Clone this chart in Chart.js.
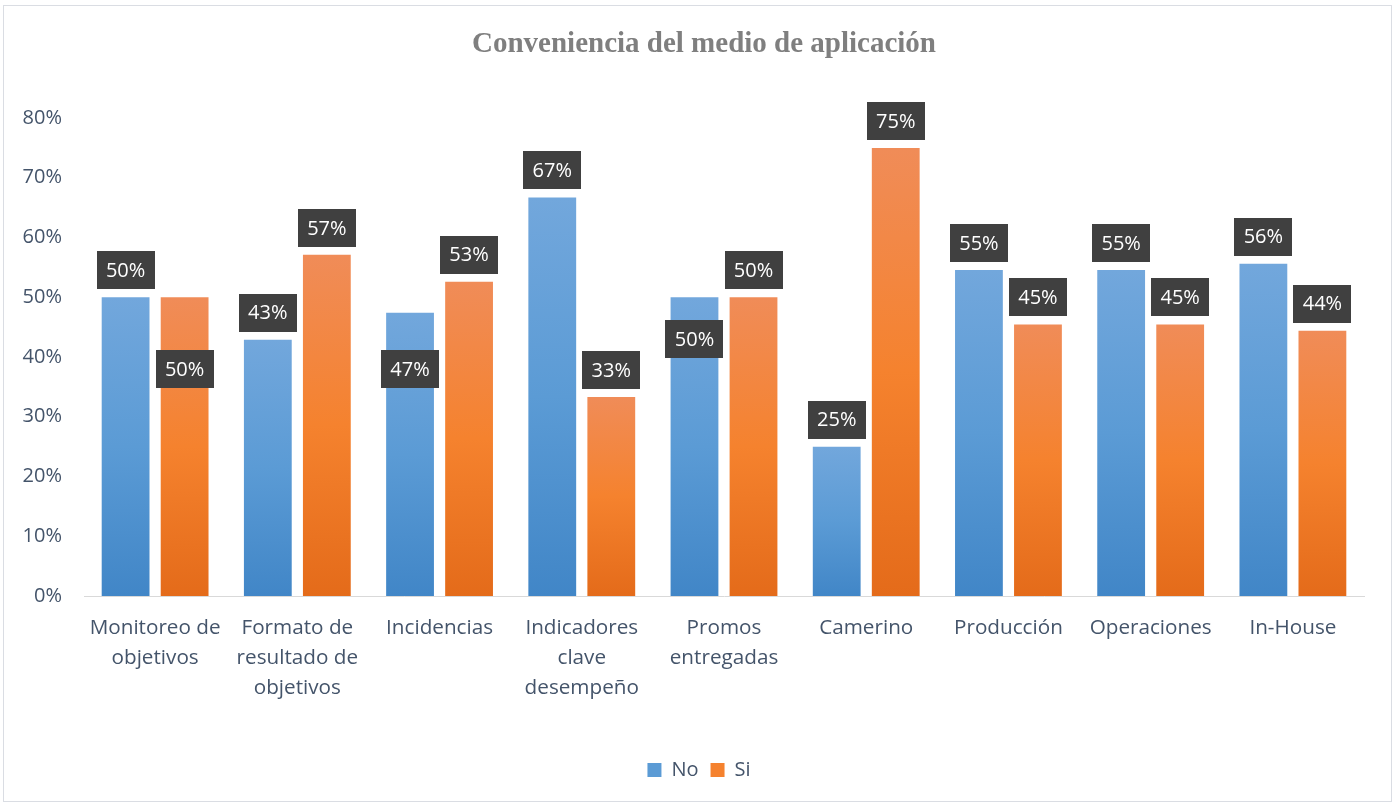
<!DOCTYPE html>
<html>
<head>
<meta charset="utf-8">
<script src="https://cdn.jsdelivr.net/npm/chart.js@4"></script>
<style>
    html, body { margin: 0; padding: 0; background: #ffffff; }
    #wrap { position: relative; width: 1398px; height: 806px; }
    #frame { position: absolute; left: 3px; top: 5px; width: 1389px; height: 797px; border: 1px solid #dadde3; box-sizing: border-box; pointer-events: none; }
</style>
</head>
<body>
<div id="wrap">
    <canvas id="chart" width="1398" height="806"></canvas>
    <div id="frame"></div>
</div>
<script>
// Datos del gráfico
const categories = [
    ['Monitoreo de', 'objetivos'],
    ['Formato de', 'resultado de', 'objetivos'],
    'Incidencias',
    ['Indicadores', 'clave', 'desempeño'],
    ['Promos', 'entregadas'],
    'Camerino',
    'Producción',
    'Operaciones',
    'In-House'
];
const noValues = [50.0, 42.9, 47.4, 66.7, 50.0, 25.0, 54.55, 54.55, 55.6];
const siValues = [50.0, 57.1, 52.6, 33.3, 50.0, 75.0, 45.45, 45.45, 44.4];
const yMin = 0;
const yMax = 80;
const yStep = 10;

const textColor = '#44546a';
const baseFont = 'Open Sans';

// Degradado vertical por barra (más claro arriba)
function barGradient(context, stops) {
    const chart = context.chart;
    if (!chart.chartArea || context.type !== 'data') return stops[1];
    const yScale = chart.scales.y;
    const top = yScale.getPixelForValue(context.raw);
    const bottom = yScale.getPixelForValue(0);
    if (!isFinite(top) || bottom - top < 1) return stops[1];
    const g = chart.ctx.createLinearGradient(0, top, 0, bottom);
    g.addColorStop(0, stops[0]);
    g.addColorStop(0.5, stops[1]);
    g.addColorStop(1, stops[2]);
    return g;
}

// Título dibujado a mano
const titlePlugin = {
    id: 'customTitle',
    afterDraw(chart) {
        const ctx = chart.ctx;
        ctx.save();
        ctx.font = 'bold 29px "Liberation Serif"';
        ctx.fillStyle = '#7f7f7f';
        ctx.textAlign = 'center';
        ctx.textBaseline = 'middle';
        ctx.fillText('Conveniencia del medio de aplicación', 704, 45);
        ctx.restore();
    }
};

// Etiquetas de datos en cajas oscuras
const boxLabels = {
    id: 'boxLabels',
    afterDatasetsDraw(chart, args, opts) {
        const ctx = chart.ctx;
        const yScale = chart.scales.y;
        ctx.save();
        ctx.font = '20px "' + baseFont + '"';
        ctx.textAlign = 'center';
        ctx.textBaseline = 'middle';
        chart.data.datasets.forEach((ds, di) => {
            chart.getDatasetMeta(di).data.forEach((bar, i) => {
                const w = 58, h = 38;
                const key = di + '-' + i;
                let cy;
                if (opts.inside && opts.inside[key] !== undefined) {
                    cy = yScale.getPixelForValue(opts.inside[key]);
                } else {
                    cy = bar.y - 8 - h / 2;
                }
                ctx.fillStyle = '#404040';
                ctx.fillRect(Math.round(bar.x - w / 2), Math.round(cy - h / 2), w, h);
                ctx.fillStyle = '#ffffff';
                ctx.fillText(Math.round(ds.data[i]) + '%', bar.x, cy + 1);
            });
        });
        ctx.restore();
    }
};

document.addEventListener('DOMContentLoaded', () => {
    const ctx = document.getElementById('chart');
    new Chart(ctx, {
        type: 'bar',
        data: {
            labels: categories,
            datasets: [{
                label: 'No',
                data: noValues,
                backgroundColor: (c) => barGradient(c, ['#72a7dc', '#5b9bd5', '#4186c7'])
            }, {
                label: 'Si',
                data: siValues,
                backgroundColor: (c) => barGradient(c, ['#f08c58', '#f5822e', '#e46b1a'])
            }]
        },
        options: {
            responsive: false,
            animation: false,
            categoryPercentage: 0.83,
            barPercentage: 0.81,
            layout: {
                padding: { left: 0, right: 0, top: 118, bottom: 16 }
            },
            scales: {
                x: {
                    grid: { display: false, drawTicks: false },
                    border: { display: true, color: '#d9d9d9', width: 1 },
                    ticks: {
                        autoSkip: false,
                        maxRotation: 0,
                        padding: 17,
                        color: textColor,
                        font: { family: baseFont, size: 20.7, lineHeight: 1.45 }
                    },
                    afterFit: (scale) => { scale.height = 152; }
                },
                y: {
                    min: yMin,
                    max: yMax,
                    grid: { display: false, drawTicks: false },
                    border: { display: false },
                    ticks: {
                        stepSize: yStep,
                        padding: 22,
                        color: textColor,
                        font: { family: baseFont, size: 20 },
                        callback: (v) => v + '%'
                    },
                    afterFit: (scale) => { scale.width = 84; }
                },
                // eje vacío a la derecha solo para reservar margen
                yRight: {
                    position: 'right',
                    display: true,
                    grid: { display: false, drawTicks: false },
                    border: { display: false },
                    ticks: { display: false },
                    afterFit: (scale) => { scale.width = 34; }
                }
            },
            plugins: {
                title: { display: false },
                tooltip: { enabled: false },
                legend: {
                    position: 'bottom',
                    labels: {
                        boxWidth: 14,
                        boxHeight: 14,
                        padding: 12,
                        color: textColor,
                        font: { family: baseFont, size: 20 },
                        generateLabels: (chart) => chart.data.datasets.map((ds, i) => ({
                            text: ds.label,
                            fillStyle: i === 0 ? '#5b9bd5' : '#f5822e',
                            strokeStyle: 'transparent',
                            lineWidth: 0,
                            fontColor: textColor,
                            datasetIndex: i
                        }))
                    }
                },
                boxLabels: {
                    // etiquetas desplazadas dentro de la barra (centro en %)
                    inside: { '1-0': 38, '0-2': 38, '0-4': 43 }
                }
            }
        },
        plugins: [titlePlugin, boxLabels]
    });
});
</script>
</body>
</html>
